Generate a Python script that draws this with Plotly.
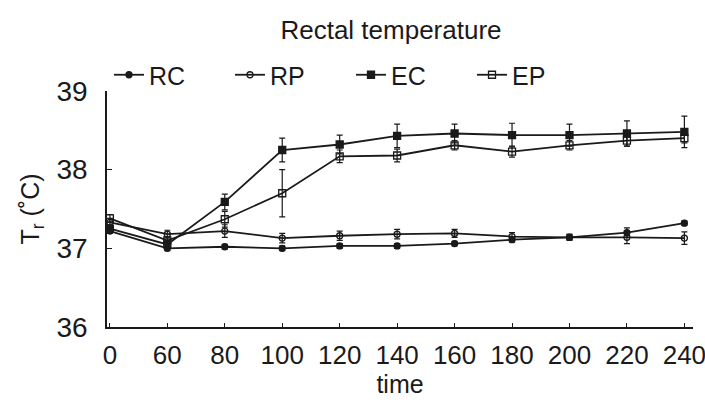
import plotly.graph_objects as go

time_labels = ["0", "60", "80", "100", "120", "140", "160", "180", "200", "220", "240"]
rc = [37.22, 37.00, 37.02, 37.00, 37.03, 37.03, 37.06, 37.11, 37.14, 37.20, 37.32]
rp = [37.33, 37.18, 37.22, 37.13, 37.16, 37.18, 37.19, 37.15, 37.14, 37.14, 37.13]
ec = [37.25, 37.05, 37.59, 38.25, 38.32, 38.43, 38.46, 38.44, 38.44, 38.46, 38.48]
ep = [37.38, 37.10, 37.37, 37.70, 38.17, 38.18, 38.31, 38.23, 38.31, 38.37, 38.40]
rc_err = [0.03, 0.03, 0.03, 0.03, 0.03, 0.03, 0.03, 0.03, 0.03, 0.06, 0.03]
rp_err = [0.05, 0.05, 0.08, 0.06, 0.06, 0.06, 0.05, 0.05, 0.04, 0.08, 0.08]
ec_err = [0.05, 0.05, 0.10, 0.15, 0.12, 0.15, 0.12, 0.15, 0.14, 0.16, 0.20]
ep_err = [0.05, 0.05, 0.10, 0.30, 0.08, 0.08, 0.06, 0.07, 0.06, 0.07, 0.06]

idx = list(range(len(time_labels)))
ink = "#1a1a1a"

series = [
    ("RC", rc, rc_err, "circle", 6),
    ("RP", rp, rp_err, "circle-open", 6),
    ("EC", ec, ec_err, "square", 7),
    ("EP", ep, ep_err, "square-open", 7),
]

fig = go.Figure()
for name, vals, err, sym, size in series:
    fig.add_trace(go.Scatter(
        x=idx, y=vals, name=name, mode="lines+markers",
        line=dict(color=ink, width=1.8),
        marker=dict(symbol=sym, size=size, color=ink, line=dict(color=ink, width=1.3)),
        error_y=dict(type="data", array=err, visible=True, color=ink, thickness=1.2, width=3),
    ))

fig.update_layout(
    width=705, height=408,
    margin=dict(l=107, r=12, t=91, b=81, autoexpand=False),
    paper_bgcolor="white", plot_bgcolor="white",
    font=dict(family="Liberation Sans, Arial, sans-serif", color=ink, size=25),
    title=dict(text="Rectal temperature", x=391/705, xref="container", xanchor="center",
               y=1-30/408, yref="container", yanchor="middle", font=dict(size=26)),
    legend=dict(orientation="h", xref="container", yref="container",
                x=109/705, xanchor="left", y=1-75/408, yanchor="middle",
                entrywidth=76, entrywidthmode="pixels", tracegroupgap=0,
                font=dict(size=25), bgcolor="rgba(0,0,0,0)", itemsizing="trace"),
    showlegend=True,
)
fig.update_xaxes(
    range=[-0.05, 10.15], tickmode="array", tickvals=idx, ticktext=time_labels,
    showline=True, linecolor=ink, linewidth=1.5, ticks="inside", ticklen=4,
    tickcolor=ink, showgrid=False, zeroline=False, ticklabelstandoff=4,
    ticklabeloverflow="allow",
    title=dict(text="time", font=dict(size=25), standoff=4),
    tickfont=dict(size=26),
)
fig.update_yaxes(
    range=[36, 39], tickvals=[36, 37, 38, 39], showline=True, linecolor=ink, linewidth=1.5,
    ticks="inside", ticklen=5, tickcolor=ink, showgrid=False, zeroline=False,
    ticklabelstandoff=12,
    title=dict(text="T<sub>r</sub> (˚C)", font=dict(size=25), standoff=10),
    tickfont=dict(size=28),
)

fig.write_html("out.html")
